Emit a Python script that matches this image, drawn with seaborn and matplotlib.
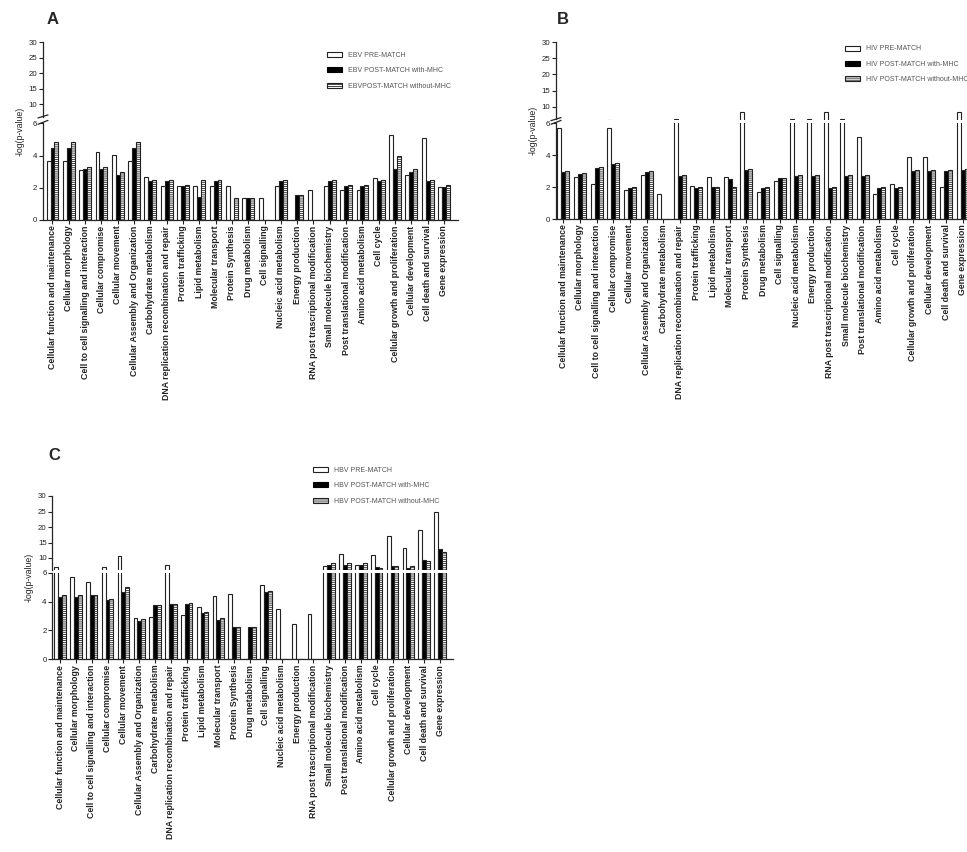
import matplotlib
matplotlib.use('Agg')
import matplotlib.pyplot as plt
import matplotlib.patches as mpatches
import seaborn as sns
import pandas as pd

# categories (same order in the 3 panels)
categories = [
    'Cellular function and maintenance', 'Cellular morphology',
    'Cell to cell signalling and interaction', 'Cellular compromise',
    'Cellular movement', 'Cellular Assembly and Organization',
    'Carbohydrate metabolism', 'DNA replication recombination and repair',
    'Protein trafficking', 'Lipid metabolism', 'Molecular transport',
    'Protein Synthesis', 'Drug metabolism', 'Cell signalling',
    'Nucleic acid metabolism', 'Energy production',
    'RNA post trascriptional modification', 'Small molecule biochemistry',
    'Post translational modification', 'Amino acid metabolism', 'Cell cycle',
    'Cellular growth and proliferation', 'Cellular development',
    'Cell death and survival', 'Gene expression',
]

# A - EBV
ebv_labels = ['EBV PRE-MATCH', 'EBV POST-MATCH with-MHC', 'EBVPOST-MATCH without-MHC']
ebv_pre = [3.69, 3.69, 3.09, 4.23, 4.02, 3.69, 2.68, 2.12, 2.12, 2.12, 2.12, 2.12, 1.35,
           1.37, 2.12, 0, 1.85, 2.1, 1.85, 1.85, 2.62, 5.25, 2.77, 5.1, 2.06]
ebv_with = [4.48, 4.48, 3.15, 3.15, 2.8, 4.48, 2.41, 2.41, 2.12, 1.43, 2.41, 0, 1.35,
            0, 2.41, 1.56, 0, 2.41, 2.1, 2.1, 2.41, 3.17, 2.97, 2.41, 2.06]
ebv_without = [4.85, 4.85, 3.3, 3.3, 2.97, 4.85, 2.47, 2.47, 2.2, 2.47, 2.47, 1.35, 1.37,
               0, 2.47, 1.58, 0, 2.47, 2.2, 2.2, 2.47, 4.0, 3.15, 2.47, 2.2]

# B - HIV
hiv_labels = ['HIV PRE-MATCH', 'HIV POST-MATCH with-MHC', 'HIV POST-MATCH without-MHC']
hiv_pre = [5.73, 2.64, 2.18, 5.73, 1.82, 2.74, 1.55, 6.3, 2.09, 2.66, 2.64, 8.2, 1.72,
           2.36, 6.3, 6.3, 8.2, 6.3, 5.17, 1.55, 2.18, 3.89, 3.89, 2.0, 8.2]
hiv_with = [2.97, 2.8, 3.18, 3.43, 1.92, 2.97, 0, 2.72, 1.97, 1.99, 2.49, 3.08, 1.97,
            2.55, 2.7, 2.7, 1.97, 2.7, 2.7, 1.97, 1.97, 2.99, 2.99, 2.99, 3.05]
hiv_without = [3.0, 2.9, 3.28, 3.49, 2.0, 3.0, 0, 2.78, 1.99, 2.03, 2.0, 3.15, 2.0,
               2.57, 2.78, 2.78, 2.0, 2.78, 2.78, 2.0, 2.0, 3.1, 3.1, 3.1, 3.13]

# C - HBV
hbv_labels = ['HBV PRE-MATCH', 'HBV POST-MATCH with-MHC', 'HBV POST-MATCH without-MHC']
hbv_pre = [7.0, 5.7, 5.36, 7.0, 10.7, 2.86, 2.96, 7.8, 3.09, 3.63, 4.41, 4.5, 0,
           5.13, 3.49, 2.42, 3.16, 7.5, 11.2, 7.6, 11.1, 17.0, 13.3, 18.9, 24.8]
hbv_with = [4.34, 4.34, 4.43, 4.1, 4.67, 2.63, 3.74, 3.86, 3.83, 3.23, 2.73, 2.22, 2.26,
            4.69, 0, 0, 0, 7.8, 7.8, 7.9, 7.2, 7.4, 6.9, 9.4, 12.8]
hbv_without = [4.43, 4.43, 4.43, 4.2, 5.0, 2.77, 3.79, 3.86, 3.88, 3.3, 2.84, 2.26, 2.26,
               4.76, 0, 0, 0, 8.3, 8.3, 8.4, 6.9, 7.4, 7.4, 9.0, 11.9]

sns.set_style('ticks')
plt.rcParams['font.family'] = ['Liberation Sans', 'DejaVu Sans']
plt.rcParams['hatch.linewidth'] = 0.6

W, H = 967, 852
fig = plt.figure(figsize=(W / 100, H / 100), dpi=100)


def rect(x0, x1, y0, y1):
    return [x0 / W, 1 - y1 / H, (x1 - x0) / W, (y1 - y0) / H]


def bars(ax, df, labels):
    sns.barplot(data=df, x='cat', y='val', hue='serie', order=categories,
                hue_order=labels, palette=['white', 'black', 'white'],
                saturation=1, width=0.72, errorbar=None, legend=False,
                edgecolor='#222222', linewidth=0.8, ax=ax)
    for patch in ax.containers[2]:
        patch.set_hatch('--------')


def panel(letter, letter_xy, labels, pre, wth, wout, x0, x1, ytop, ybrk_up, ybrk_lo,
          ybot, xlim, leg_xy, marks=True):
    df = pd.DataFrame({
        'cat': categories * 3,
        'serie': [labels[0]] * 25 + [labels[1]] * 25 + [labels[2]] * 25,
        'val': pre + wth + wout,
    })
    ax_up = fig.add_axes(rect(x0, x1, ytop, ybrk_up))
    ax_lo = fig.add_axes(rect(x0, x1, ybrk_lo, ybot))
    bars(ax_up, df, labels)
    bars(ax_lo, df, labels)

    ax_up.set_ylim(6, 30)
    ax_up.set_yticks([10, 15, 20, 25, 30])
    ax_lo.set_ylim(0, 6)
    ax_lo.set_yticks([0, 2, 4, 6])
    for ax in (ax_up, ax_lo):
        ax.set_xlim(*xlim)
        ax.set_xlabel('')
        ax.set_ylabel('')
        ax.tick_params(axis='both', length=3, width=0.8, colors='#222222',
                       labelsize=5.7, pad=1)
        for s in ('top', 'right'):
            ax.spines[s].set_visible(False)
        ax.spines['left'].set_linewidth(0.9)
        ax.spines['bottom'].set_linewidth(0.9)
    ax_up.spines['bottom'].set_visible(False)
    ax_up.set_xticks([])
    ax_lo.set_xticks(range(len(categories)))
    ax_lo.set_xticklabels(categories, rotation=90, fontsize=6.3,
                          fontweight='bold', color='#222222')

    if marks:
        ax_up.plot([-0.012, 0.012], [-0.015, 0.025], transform=ax_up.transAxes,
                   color='#222222', lw=0.9, clip_on=False)
        ax_lo.plot([-0.012, 0.012], [0.99, 1.03], transform=ax_lo.transAxes,
                   color='#222222', lw=0.9, clip_on=False)

    fig.text((x0 - 23) / W, 1 - ((ytop + ybot) / 2) / H, '-log(p-value)',
             rotation=90, ha='center', va='center', fontsize=6.3, color='#222222')
    fig.text(letter_xy[0] / W, 1 - letter_xy[1] / H, letter,
             fontsize=12, fontweight='bold', ha='left', va='center')

    handles = [
        mpatches.Patch(facecolor='white', edgecolor='#222222', linewidth=0.8),
        mpatches.Patch(facecolor='black', edgecolor='black', linewidth=0.8),
        mpatches.Patch(facecolor='white', edgecolor='#222222', linewidth=0.8,
                       hatch='--------'),
    ]
    ax_lo.legend(handles, labels, loc='upper left',
                 bbox_to_anchor=(leg_xy[0] / W, 1 - leg_xy[1] / H),
                 bbox_transform=fig.transFigure, frameon=False, fontsize=5,
                 handlelength=2.2, handleheight=0.7, handletextpad=0.85,
                 labelspacing=1.2, borderpad=0, borderaxespad=0,
                 labelcolor='#555555')


panel('A', (47, 19), ebv_labels, ebv_pre, ebv_with, ebv_without,
      43, 458, 42, 116.8, 123.3, 220, (-0.58, 24.86), (327, 52))
panel('B', (557, 19), hiv_labels, hiv_pre, hiv_with, hiv_without,
      556, 977, 42.3, 119.5, 123.3, 219, (-0.44, 24.86), (845, 45.5))
panel('C', (48, 456), hbv_labels, hbv_pre, hbv_with, hbv_without,
      52.3, 453.3, 496, 570.4, 572.7, 659.3, (-0.49, 24.84), (313, 467),
      marks=False)

plt.savefig('out.png', dpi=100)
